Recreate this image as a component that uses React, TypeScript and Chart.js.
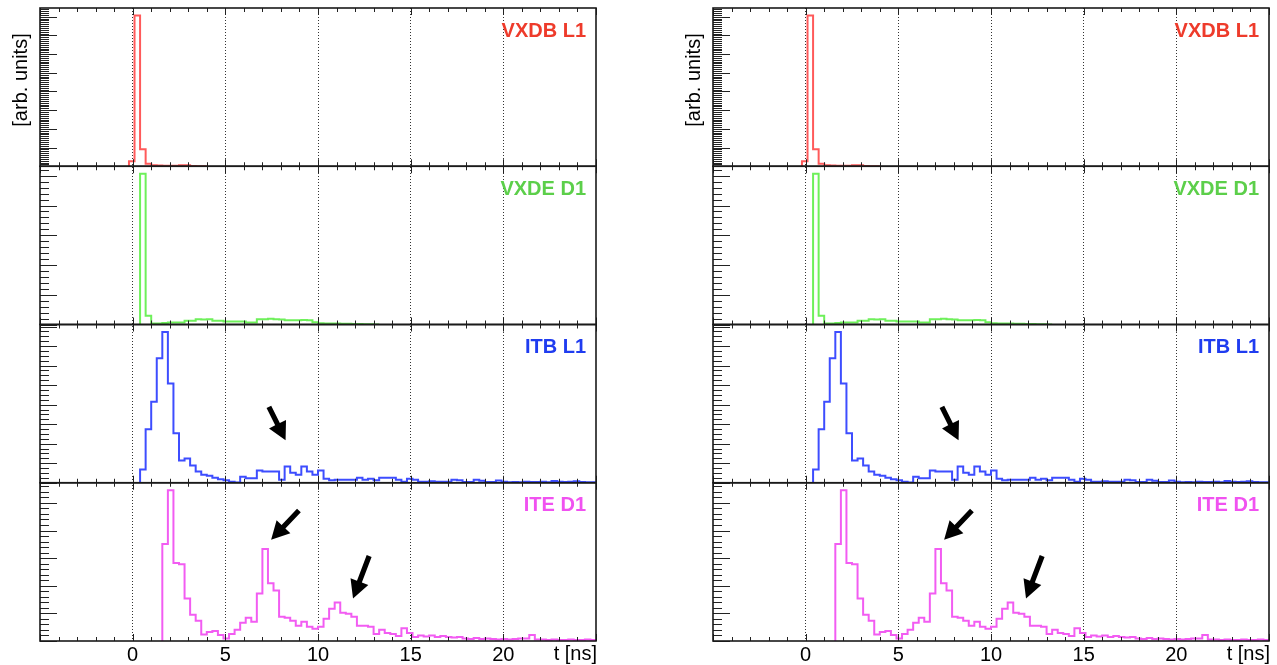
import React, { useEffect, useRef } from 'react';
import { Chart, registerables } from 'chart.js';

Chart.register(...registerables);

// ---- histogram binning (100 bins, -5 .. 25 ns) ----
const BIN_MIN = -5;
const BIN_WIDTH = 0.3;
const X_MIN = -5;
const X_MAX = 25;
const X_TICKS = [0, 5, 10, 15, 20];
const X_TITLE = 't [ns]';
const Y_TITLE = '[arb. units]';

// ---- panels (top to bottom) ----
const PANEL_NAMES = ['VXDB L1', 'VXDE D1', 'ITB L1', 'ITE D1'];
const PANEL_IDS = ['yVXDB', 'yVXDE', 'yITB', 'yITE'];
const PANEL_LINE_COLORS = ['#ff5a5a', '#6ef05a', '#3d4dff', '#f25cf2'];
const PANEL_TEXT_COLORS = ['#ee3b2b', '#5ccf4a', '#1f3cf0', '#f052f0'];
const PANEL_START_BINS = [16, 18, 18, 22];

// ---- bin contents (arb. units), starting at PANEL_START_BINS ----
const VXDB_L1 = [5, 150, 17, 2.5, 1, 0.8, 0.6, 0.5, 0.4, 1, 1, 0.3, 0, 0];
const VXDE_D1 = [
  150, 8.7, 1, 1, 1.5, 2, 2, 2, 3.7, 3.7, 5.3, 5, 5.3, 3.7, 3.7, 3, 3, 3, 3, 2, 2,
  5.3, 5.3, 5.6, 5.3, 5, 4.3, 4.3, 4.3, 4.6, 4.3, 2.3, 1.2, 1, 1, 1, 0.8, 0.8, 0.5,
  0.5, 0.3, 0.3, 0,
];
const ITB_L1 = [
  13, 53, 80, 123, 149, 98, 49, 22, 24, 17, 11, 8, 7, 5, 3.5, 2.5, 1, 0.3, 6, 4.5,
  4.5, 12, 11, 11, 11, 3, 16, 10, 8, 16, 11, 8, 12, 4, 2.5, 3, 3, 3, 3, 5, 3, 4, 2.5,
  5, 5, 5, 3, 1, 4, 3, 1, 1, 1.5, 1, 1, 1, 3, 2.5, 0.7, 0.7, 3, 2, 0.7, 0.7, 2.3, 1,
  0.5, 0.8, 0.6, 1, 0.7, 0.8, 1, 0.6, 1.7, 1, 0.7, 1, 1.5, 0.8, 0.6, 0.5,
];
const ITE_D1 = [
  96, 149, 77, 76, 42, 26, 20, 6.5, 9, 10, 6, 2.5, 7, 11, 18, 23, 19, 47, 91, 57, 50,
  24, 23, 20, 15, 19, 14, 12, 14, 22, 32, 38, 28, 27, 24, 15, 15, 14, 7, 11, 8, 7, 5,
  12.5, 8, 4, 5.5, 4.5, 5.5, 4, 5, 4, 3.5, 4, 2.5, 2, 3, 2, 2.5, 2, 1.5, 2, 1.5, 2,
  2.5, 2.5, 6, 1.5, 1.5, 1, 1.5, 1, 1, 1.5, 1, 1, 1.5, 1,
];
const PANEL_VALUES = [VXDB_L1, VXDE_D1, ITB_L1, ITE_D1];

// ---- y axis tick spacing per panel ----
const Y_MAJOR = [18.6, 29.6, 19.3, 27.3];
const Y_MINOR_DIV = [10, 5, 4, 5];

// ---- arrows (panel index, tail -> tip in data coordinates) ----
const ARROWS = [
  { panel: 2, x0: 7.35, y0: 75, x1: 8.25, y1: 42 },
  { panel: 3, x0: 8.97, y0: 129, x1: 7.47, y1: 100 },
  { panel: 3, x0: 12.76, y0: 84, x1: 11.89, y1: 42 },
];

const FONT = '"Liberation Sans", Arial, Helvetica, sans-serif';

function histPoints(start: number, vals: number[]) {
  const pts = [{ x: BIN_MIN + start * BIN_WIDTH, y: 0 }];
  vals.forEach((v, i) => pts.push({ x: BIN_MIN + (start + i) * BIN_WIDTH, y: v }));
  pts.push({ x: BIN_MIN + (start + vals.length) * BIN_WIDTH, y: vals[vals.length - 1] });
  return pts;
}

function drawArrow(ctx: CanvasRenderingContext2D, x0: number, y0: number, x1: number, y1: number) {
  const dx = x1 - x0;
  const dy = y1 - y0;
  const L = Math.hypot(dx, dy);
  const ux = dx / L;
  const uy = dy / L;
  const nx = -uy;
  const ny = ux;
  const hl = 18;
  const hw = 9.5;
  const sw = 2.6;
  const bx = x1 - ux * hl;
  const by = y1 - uy * hl;
  ctx.beginPath();
  ctx.moveTo(x0 + nx * sw, y0 + ny * sw);
  ctx.lineTo(bx + nx * sw, by + ny * sw);
  ctx.lineTo(bx + nx * hw, by + ny * hw);
  ctx.lineTo(x1, y1);
  ctx.lineTo(bx - nx * hw, by - ny * hw);
  ctx.lineTo(bx - nx * sw, by - ny * sw);
  ctx.lineTo(x0 - nx * sw, y0 - ny * sw);
  ctx.closePath();
  ctx.fill();
}

const overlayPlugin = {
  id: 'rootStyleOverlay',
  afterDatasetsDraw(chart: any) {
    const ctx: CanvasRenderingContext2D = chart.ctx;
    const xs = chart.scales.x;
    const area = chart.chartArea;
    ctx.save();
    const seg = (a: number, b: number, c: number, d: number) => {
      ctx.beginPath();
      ctx.moveTo(a, b);
      ctx.lineTo(c, d);
      ctx.stroke();
    };
    PANEL_IDS.forEach((id, p) => {
      const ys = chart.scales[id];
      const top = ys.top;
      const bottom = ys.bottom;
      ctx.strokeStyle = '#222';
      ctx.lineWidth = 1;
      for (let t = X_MIN; t <= X_MAX; t += 1) {
        const px = Math.round(xs.getPixelForValue(t)) + 0.5;
        const len = t % 5 === 0 ? 7 : 4;
        seg(px, bottom, px, bottom - len);
        seg(px, top, px, top + len);
      }
      const step = Y_MAJOR[p] / Y_MINOR_DIV[p];
      for (let i = 0; ; i++) {
        const v = i * step;
        if (v > ys.max) break;
        const py = Math.round(ys.getPixelForValue(v)) + 0.5;
        const len = i % Y_MINOR_DIV[p] === 0 ? 17 : 9;
        seg(area.left, py, area.left + len, py);
      }
      ctx.lineWidth = 1.6;
      ctx.strokeStyle = '#1a1a1a';
      ctx.strokeRect(area.left, top, area.right - area.left, bottom - top);
      ctx.font = `bold 20px ${FONT}`;
      ctx.fillStyle = PANEL_TEXT_COLORS[p];
      ctx.textAlign = 'right';
      ctx.textBaseline = 'middle';
      ctx.fillText(PANEL_NAMES[p], area.right - 10, top + 23);
    });
    ctx.fillStyle = '#000';
    ARROWS.forEach((a) => {
      const ys = chart.scales[PANEL_IDS[a.panel]];
      drawArrow(
        ctx,
        xs.getPixelForValue(a.x0),
        ys.getPixelForValue(a.y0),
        xs.getPixelForValue(a.x1),
        ys.getPixelForValue(a.y1)
      );
    });
    const ys0 = chart.scales[PANEL_IDS[0]];
    ctx.save();
    ctx.translate(21, ys0.top + 72);
    ctx.rotate(-Math.PI / 2);
    ctx.font = `20px ${FONT}`;
    ctx.fillStyle = '#000';
    ctx.textAlign = 'center';
    ctx.textBaseline = 'middle';
    ctx.fillText(Y_TITLE, 0, 0);
    ctx.restore();
    ctx.font = `20px ${FONT}`;
    ctx.fillStyle = '#000';
    ctx.textAlign = 'right';
    ctx.textBaseline = 'middle';
    ctx.fillText(X_TITLE, area.right + 1, xs.top + 13);
    ctx.restore();
  },
};

function buildConfig(padRight: number): any {
  const datasets = PANEL_VALUES.map((vals, p) => ({
    label: PANEL_NAMES[p],
    data: histPoints(PANEL_START_BINS[p], vals),
    borderColor: PANEL_LINE_COLORS[p],
    borderWidth: 2,
    pointRadius: 0,
    fill: false,
    tension: 0,
    stepped: 'before',
    xAxisID: 'x',
    yAxisID: PANEL_IDS[p],
  }));
  const scales: any = {
    x: {
      type: 'linear',
      min: X_MIN,
      max: X_MAX,
      afterBuildTicks: (s: any) => {
        s.ticks = X_TICKS.map((v) => ({ value: v }));
      },
      afterFit: (s: any) => {
        s.height = 24;
      },
      ticks: {
        font: { size: 20, family: FONT },
        color: '#000',
        padding: 2,
        maxRotation: 0,
        autoSkip: false,
      },
      grid: { color: '#333', lineWidth: 1, drawTicks: false },
      border: { display: false, dash: [1, 2] },
    },
  };
  PANEL_IDS.forEach((id, p) => {
    const peak = Math.max(...PANEL_VALUES[p]);
    scales[id] = {
      type: 'linear',
      position: 'left',
      stack: 'panels',
      stackWeight: 1,
      weight: PANEL_IDS.length - p,
      min: 0,
      max: peak * 1.05,
      ticks: { display: false },
      grid: { display: false, drawTicks: false },
      border: { display: false },
      afterFit: (s: any) => {
        s.width = 0;
      },
    };
  });
  return {
    type: 'line',
    data: { datasets },
    options: {
      animation: false,
      responsive: false,
      maintainAspectRatio: false,
      layout: { padding: { left: 40, right: padRight, top: 8, bottom: 0 } },
      plugins: { legend: { display: false }, tooltip: { enabled: false } },
      scales,
    },
    plugins: [overlayPlugin],
  };
}

function Panel({ left, width, padRight }: { left: number; width: number; padRight: number }) {
  const ref = useRef<HTMLCanvasElement>(null);
  useEffect(() => {
    if (!ref.current) return;
    const chart = new Chart(ref.current, buildConfig(padRight));
    return () => chart.destroy();
  }, [padRight]);
  return (
    <div style={{ position: 'absolute', left, top: 0, width, height: 665 }}>
      <canvas ref={ref} width={width} height={665} style={{ width, height: 665, display: 'block' }} />
    </div>
  );
}

export default function App() {
  return (
    <div style={{ position: 'absolute', left: 0, top: 0, width: 1277, height: 665, background: '#fff' }}>
      <Panel left={0} width={640} padRight={44} />
      <Panel left={673} width={604} padRight={8} />
    </div>
  );
}
